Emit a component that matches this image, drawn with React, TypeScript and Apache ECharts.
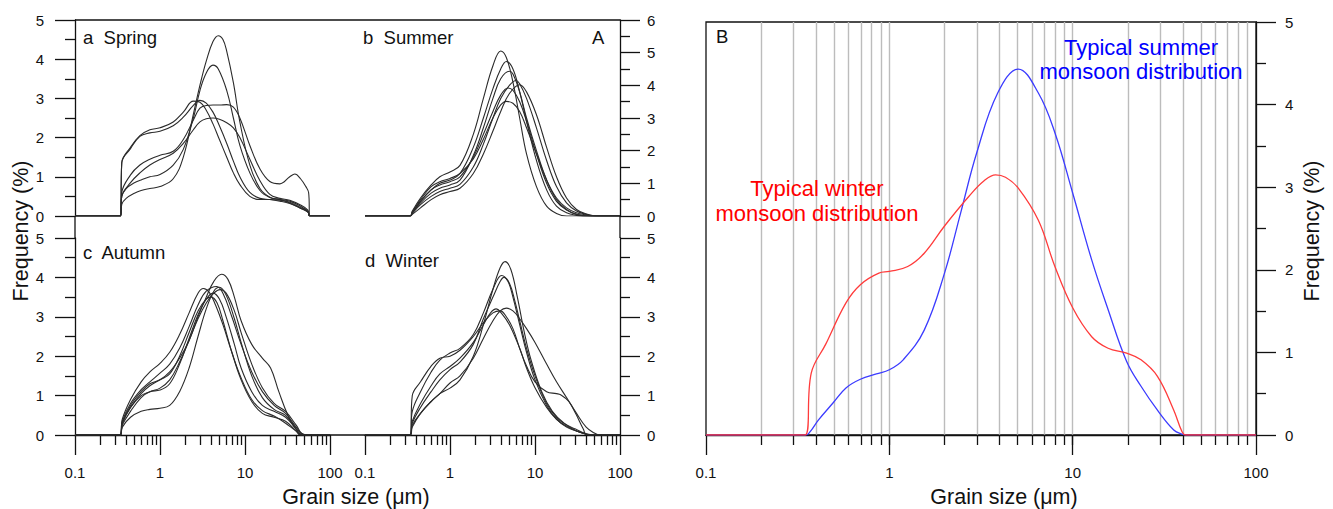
import React, { useEffect, useRef } from 'react';
import * as echarts from 'echarts';

type Pt = [number, number];

const FONT = '"Liberation Sans", Arial, Helvetica, sans-serif';
const INK = '#111';

// Tick positions on the grain-size axes (µm)
const MAJOR_SIZES = [0.1, 1, 10, 100];
const MINOR_SIZES = [0.2, 0.3, 0.4, 0.5, 0.6, 0.7, 0.8, 0.9, 2, 3, 4, 5, 6, 7, 8, 9, 20, 30, 40, 50, 60, 70, 80, 90];
const GRIDLINE_SIZES = [0.2, 0.3, 0.4, 0.5, 0.6, 0.7, 0.8, 0.9, 1, 2, 3, 4, 5, 6, 7, 8, 9, 10, 20, 30, 40, 50, 60, 70, 80, 90];

// ---- a Spring ----
const springA: Pt[] = [[0.1,0],[0.343,0],[0.355,0.3],[0.4,0.45],[0.5,0.58],[0.6,0.65],[0.76,0.7],[1.0,0.75],[1.43,0.95],[1.88,1.5],[2.47,2.6],[3.0,3.4],[3.5,3.95],[4.2,4.45],[4.85,4.6],[5.5,4.5],[6.1,4.2],[7.3,3.4],[8.7,2.4],[11.4,1.3],[15,0.7],[19.6,0.48],[25.7,0.42],[33.6,0.33],[45,0.2],[55,0.1],[58,0],[100,0]];
const springB: Pt[] = [[0.1,0],[0.343,0],[0.355,0.5],[0.4,0.7],[0.5,0.85],[0.6,0.92],[0.76,1.0],[1.0,1.06],[1.43,1.3],[1.88,1.7],[2.47,2.5],[2.95,3.2],[3.5,3.65],[4.2,3.85],[4.85,3.75],[6.1,3.2],[7.3,2.5],[8.7,1.8],[11.4,1.1],[15,0.65],[19.6,0.47],[25.7,0.42],[33.6,0.38],[45,0.25],[55,0.12],[58,0],[100,0]];
const springC: Pt[] = [[0.1,0],[0.343,0],[0.355,1.36],[0.45,1.75],[0.58,2.05],[0.76,2.2],[1.0,2.25],[1.43,2.4],[1.88,2.65],[2.47,2.93],[2.95,2.9],[3.5,2.7],[4.2,2.35],[5,1.95],[6.1,1.5],[7.3,1.1],[8.7,0.8],[11.4,0.5],[15,0.42],[19.6,0.42],[25.7,0.4],[33.6,0.35],[45,0.22],[55,0.12],[58,0],[100,0]];
const springD: Pt[] = [[0.1,0],[0.343,0],[0.355,1.36],[0.45,1.72],[0.58,2.03],[0.76,2.12],[1.0,2.16],[1.43,2.3],[1.88,2.52],[2.47,2.82],[2.95,2.95],[3.5,2.88],[4.2,2.65],[5,2.3],[6.1,1.85],[7.3,1.4],[8.7,1.0],[11.4,0.6],[15,0.45],[19.6,0.42],[25.7,0.38],[33.6,0.32],[45,0.2],[55,0.1],[58,0],[100,0]];
const springE: Pt[] = [[0.1,0],[0.343,0],[0.355,0.6],[0.45,1.05],[0.58,1.3],[0.76,1.45],[1.0,1.55],[1.43,1.65],[1.88,1.95],[2.47,2.45],[2.95,2.75],[3.5,2.82],[4.2,2.83],[5,2.83],[6.1,2.84],[7.3,2.78],[8.7,2.5],[11.4,1.8],[15,1.2],[19.6,0.88],[25.7,0.82],[33.6,1.0],[38.6,1.07],[45,0.95],[52,0.75],[56,0.6],[58,0],[100,0]];
const springF: Pt[] = [[0.1,0],[0.343,0],[0.355,0.5],[0.45,0.85],[0.58,1.1],[0.76,1.3],[1.0,1.44],[1.43,1.6],[1.88,1.85],[2.47,2.2],[2.95,2.4],[3.5,2.48],[4.2,2.5],[5,2.47],[6.1,2.38],[7.3,2.25],[8.7,2.0],[11.4,1.45],[15,0.9],[19.6,0.55],[25.7,0.45],[33.6,0.4],[45,0.28],[55,0.15],[58,0],[100,0]];

// ---- b Summer ----
const summerA: Pt[] = [[0.1,0],[0.34,0],[0.36,0.15],[0.45,0.55],[0.6,0.95],[0.76,1.2],[1.0,1.35],[1.31,1.55],[1.88,2.5],[2.47,3.6],[3.2,4.6],[3.95,5.05],[4.6,4.85],[5.5,4.1],[6.6,3.0],[7.95,1.9],[10.4,0.9],[13.7,0.3],[17.9,0.08],[23.5,0],[100,0]];
const summerB: Pt[] = [[0.1,0],[0.34,0],[0.36,0.1],[0.45,0.45],[0.6,0.8],[0.76,1.0],[1.0,1.1],[1.31,1.3],[1.88,2.1],[2.47,3.0],[3.2,3.9],[3.95,4.5],[4.6,4.73],[5.5,4.5],[6.6,3.8],[7.95,2.9],[10.4,1.7],[13.7,0.8],[17.9,0.3],[23.5,0.1],[30.8,0.02],[38,0],[100,0]];
const summerC: Pt[] = [[0.1,0],[0.34,0],[0.36,0.1],[0.45,0.4],[0.6,0.7],[0.76,0.85],[1.0,0.95],[1.31,1.1],[1.88,1.85],[2.47,2.7],[3.2,3.6],[3.95,4.2],[5.0,4.43],[5.5,4.35],[6.6,3.8],[7.95,3.0],[10.4,2.0],[13.7,1.1],[17.9,0.5],[23.5,0.2],[30.8,0.05],[42,0],[100,0]];
const summerD: Pt[] = [[0.1,0],[0.34,0],[0.36,0.08],[0.45,0.35],[0.6,0.6],[0.76,0.75],[1.0,0.85],[1.31,0.97],[1.88,1.5],[2.47,2.2],[3.2,3.0],[3.95,3.6],[5.0,4.0],[6.0,4.15],[6.6,4.05],[7.95,3.6],[10.4,2.7],[13.7,1.7],[17.9,0.9],[23.5,0.4],[30.8,0.15],[40.3,0.05],[50,0],[100,0]];
const summerE: Pt[] = [[0.1,0],[0.34,0],[0.36,0.05],[0.45,0.25],[0.6,0.5],[0.76,0.65],[1.0,0.75],[1.31,0.85],[1.88,1.3],[2.47,1.9],[3.2,2.6],[3.95,3.2],[5.0,3.75],[6.6,4.02],[7.95,3.8],[10.4,3.1],[13.7,2.1],[17.9,1.2],[23.5,0.55],[30.8,0.2],[40.3,0.06],[55,0],[100,0]];
const summerF: Pt[] = [[0.1,0],[0.34,0],[0.36,0.1],[0.45,0.45],[0.6,0.8],[0.76,0.95],[1.0,1.05],[1.31,1.2],[1.88,1.8],[2.47,2.5],[3.2,3.2],[3.95,3.7],[4.8,3.92],[5.5,3.85],[6.6,3.5],[7.95,2.9],[10.4,1.9],[13.7,1.0],[17.9,0.45],[23.5,0.18],[30.8,0.05],[42,0],[100,0]];
const summerG: Pt[] = [[0.1,0],[0.34,0],[0.36,0.12],[0.45,0.5],[0.6,0.9],[0.76,1.05],[1.0,1.15],[1.31,1.3],[1.88,1.75],[2.47,2.35],[3.2,3.0],[3.95,3.4],[4.6,3.51],[5.5,3.45],[6.6,3.2],[7.95,2.7],[10.4,1.9],[13.7,1.1],[17.9,0.55],[23.5,0.25],[30.8,0.1],[40.3,0.03],[48,0],[100,0]];

// ---- c Autumn ----
const autumnA: Pt[] = [[0.1,0],[0.34,0],[0.36,0.4],[0.45,0.9],[0.6,1.35],[0.76,1.6],[1.0,1.82],[1.3,2.1],[1.7,2.55],[2.2,3.1],[2.8,3.6],[3.24,3.72],[3.8,3.62],[4.5,3.3],[5.5,2.8],[7,2.1],[9,1.45],[12,0.9],[16,0.62],[22,0.48],[30,0.3],[40,0.1],[48,0],[100,0]];
const autumnB: Pt[] = [[0.1,0],[0.34,0],[0.36,0.3],[0.45,0.75],[0.6,1.1],[0.76,1.3],[1.0,1.4],[1.3,1.6],[1.7,1.95],[2.2,2.4],[2.8,3.0],[3.5,3.5],[4.3,3.9],[5.3,4.08],[6.3,3.95],[7.5,3.5],[9,2.9],[12,2.3],[16,1.95],[20,1.7],[25,1.1],[32,0.5],[40,0.15],[55,0],[100,0]];
const autumnC: Pt[] = [[0.1,0],[0.34,0],[0.36,0.35],[0.45,0.8],[0.6,1.15],[0.76,1.35],[1.0,1.57],[1.3,1.8],[1.7,2.2],[2.2,2.75],[2.8,3.3],[3.5,3.65],[4.65,3.77],[5.5,3.6],[7,3.0],[9,2.3],[12,1.6],[16,1.1],[22,0.75],[30,0.55],[40,0.2],[50,0],[100,0]];
const autumnD: Pt[] = [[0.1,0],[0.34,0],[0.36,0.3],[0.45,0.7],[0.6,1.0],[0.76,1.1],[1.0,1.19],[1.3,1.4],[1.7,1.85],[2.2,2.4],[2.8,2.95],[3.5,3.35],[4.3,3.6],[5.1,3.69],[6,3.6],[7.5,3.15],[9,2.6],[12,1.8],[16,1.2],[22,0.8],[30,0.6],[40,0.25],[50,0],[100,0]];
const autumnE: Pt[] = [[0.1,0],[0.34,0],[0.36,0.25],[0.45,0.6],[0.6,0.95],[0.76,1.1],[1.0,1.14],[1.3,1.3],[1.7,1.8],[2.2,2.45],[2.8,3.05],[3.5,3.45],[4.2,3.6],[5.0,3.45],[6,3.0],[7.5,2.3],[9,1.7],[12,1.1],[16,0.75],[22,0.6],[30,0.45],[40,0.15],[45,0],[100,0]];
const autumnF: Pt[] = [[0.1,0],[0.34,0],[0.36,0.2],[0.45,0.45],[0.6,0.6],[0.76,0.65],[1.0,0.68],[1.3,0.75],[1.7,1.1],[2.2,1.7],[2.8,2.5],[3.5,3.2],[4.3,3.65],[5.0,3.75],[6,3.55],[7.5,2.95],[9,2.35],[12,1.5],[16,0.95],[22,0.65],[30,0.5],[40,0.15],[45,0],[100,0]];
const autumnG: Pt[] = [[0.1,0],[0.34,0],[0.36,0.3],[0.45,0.7],[0.6,1.05],[0.76,1.25],[1.0,1.4],[1.3,1.55],[1.7,2.0],[2.2,2.6],[2.8,3.15],[3.5,3.45],[4.0,3.5],[4.7,3.35],[5.5,2.9],[7,2.1],[9,1.4],[12,0.85],[16,0.55],[22,0.45],[30,0.35],[40,0.1],[45,0],[100,0]];

// ---- d Winter ----
const winterA: Pt[] = [[0.1,0],[0.34,0],[0.36,0.25],[0.45,0.55],[0.6,0.85],[0.76,1.05],[1.0,1.19],[1.31,1.4],[1.88,2.0],[2.47,2.8],[3.2,3.7],[3.9,4.25],[4.45,4.4],[5.2,4.2],[6.2,3.5],[7.5,2.6],[9,1.9],[12,1.1],[16,0.6],[22,0.3],[30,0.15],[40,0.03],[50,0],[100,0]];
const winterB: Pt[] = [[0.1,0],[0.34,0],[0.36,0.6],[0.45,1.1],[0.6,1.6],[0.76,1.9],[1.0,2.08],[1.31,2.2],[1.88,2.55],[2.47,3.1],[3.2,3.7],[4.05,4.05],[4.8,3.9],[5.5,3.5],[6.6,2.8],[7.95,2.1],[10,1.4],[13.7,0.75],[17.9,0.4],[23.5,0.2],[30.8,0.1],[40,0.02],[45,0],[100,0]];
const winterC: Pt[] = [[0.1,0],[0.34,0],[0.36,1.0],[0.45,1.35],[0.6,1.75],[0.76,1.95],[1.0,2.0],[1.31,2.15],[1.88,2.5],[2.47,2.85],[3.2,3.1],[3.9,3.15],[4.6,3.0],[5.5,2.7],[6.6,2.2],[7.95,1.75],[10,1.35],[13.7,1.1],[17.9,1.05],[20,1.02],[25,0.85],[30,0.55],[37,0.15],[41,0],[100,0]];
const winterD: Pt[] = [[0.1,0],[0.34,0],[0.36,0.3],[0.45,0.7],[0.6,1.1],[0.76,1.4],[1.0,1.66],[1.31,1.85],[1.88,2.3],[2.47,2.95],[3.2,3.5],[3.9,3.9],[4.3,4.0],[5.0,3.85],[5.8,3.4],[6.6,2.9],[7.95,2.2],[10,1.5],[13.7,0.8],[17.9,0.45],[23.5,0.25],[30.8,0.1],[40,0.02],[45,0],[100,0]];
const winterE: Pt[] = [[0.1,0],[0.34,0],[0.36,0.2],[0.45,0.55],[0.6,0.85],[0.76,1.05],[1.0,1.32],[1.31,1.5],[1.88,1.95],[2.47,2.45],[3.2,2.9],[3.9,3.15],[4.6,3.22],[5.5,3.15],[6.6,2.95],[7.95,2.7],[10,2.35],[13.7,1.8],[17.9,1.35],[23.5,0.95],[30.8,0.55],[40,0.2],[50,0.05],[57,0],[100,0]];
const winterF: Pt[] = [[0.1,0],[0.34,0],[0.36,0.35],[0.45,0.8],[0.6,1.25],[0.76,1.55],[1.0,1.74],[1.31,1.95],[1.88,2.35],[2.47,2.8],[3.0,3.1],[3.5,3.2],[4.0,3.1],[5.0,2.8],[6.6,2.2],[7.95,1.7],[10,1.2],[13.7,0.7],[17.9,0.4],[23.5,0.22],[30.8,0.1],[40,0.02],[45,0],[100,0]];

// ---- B: typical monsoon distributions ----
const typicalWinter: Pt[] = [[0.1,0],[0.347,0],[0.375,0.75],[0.45,1.1],[0.58,1.6],[0.695,1.82],[0.877,1.96],[1.0,1.98],[1.26,2.04],[1.55,2.2],[2.0,2.53],[2.72,2.89],[3.3,3.08],[3.8,3.15],[4.3,3.12],[5.05,2.99],[6.5,2.6],[8.0,2.04],[10,1.54],[12.7,1.19],[15.6,1.05],[19.7,0.99],[23.6,0.91],[29,0.71],[35.6,0.3],[39.5,0.04],[41.5,0],[100,0]];
const typicalSummer: Pt[] = [[0.1,0],[0.35,0],[0.37,0.04],[0.41,0.18],[0.494,0.39],[0.58,0.57],[0.695,0.675],[0.85,0.74],[1.0,0.79],[1.19,0.91],[1.55,1.27],[2.0,1.96],[2.45,2.69],[3.0,3.42],[3.9,4.14],[5.05,4.43],[6.5,4.14],[8.0,3.66],[10,2.93],[12.7,2.12],[15.6,1.52],[19.7,0.89],[23.6,0.59],[29,0.3],[35.6,0.06],[39.5,0.01],[42,0],[100,0]];

const SPRING = [springA, springB, springC, springD, springE, springF];
const SUMMER = [summerA, summerB, summerC, summerD, summerE, summerF, summerG];
const AUTUMN = [autumnA, autumnB, autumnC, autumnD, autumnE, autumnF, autumnG];
const WINTER = [winterA, winterB, winterC, winterD, winterE, winterF];

const axisLineStyle = { color: INK, width: 1.3 };

function hiddenX(gridIndex: number) {
  return { type: 'log', logBase: 10, gridIndex, min: 0.1, max: 100, show: false };
}

function majorX(gridIndex: number) {
  return {
    type: 'log', logBase: 10, gridIndex, position: 'bottom', min: 0.1, max: 100,
    axisLine: { show: true, onZero: false, lineStyle: axisLineStyle },
    axisTick: { show: true, length: 20, customValues: MAJOR_SIZES, lineStyle: axisLineStyle },
    minorTick: { show: false },
    axisLabel: {
      show: true, customValues: MAJOR_SIZES, margin: 30, color: INK, fontSize: 15, fontFamily: FONT,
      formatter: (v: number) => String(v),
    },
    splitLine: { show: false },
  };
}

function minorX(gridIndex: number, gridlines: boolean) {
  return {
    type: 'log', logBase: 10, gridIndex, position: 'bottom', min: 0.1, max: 100,
    axisLine: { show: false, onZero: false },
    axisTick: { show: true, length: 10, customValues: gridlines ? GRIDLINE_SIZES : MINOR_SIZES, lineStyle: axisLineStyle },
    minorTick: { show: false },
    axisLabel: { show: false },
    splitLine: { show: gridlines, lineStyle: { color: '#bcbcbc', width: 1.4 } },
  };
}

function yAx(gridIndex: number, position: string, max: number, margin: number) {
  return {
    type: 'value', gridIndex, position, min: 0, max, interval: 1,
    axisLine: { show: true, onZero: false, lineStyle: axisLineStyle },
    axisTick: { show: true, length: 20, lineStyle: axisLineStyle },
    minorTick: { show: true, splitNumber: 2, length: 10, lineStyle: axisLineStyle },
    axisLabel: { color: INK, fontSize: 15, fontFamily: FONT, margin },
    splitLine: { show: false },
    minorSplitLine: { show: false },
  };
}

function lines(list: Pt[][], xAxisIndex: number, yAxisIndex: number, color: string, width: number) {
  return list.map((data) => ({
    type: 'line', xAxisIndex, yAxisIndex, data,
    showSymbol: false, symbol: 'none', smooth: 0.4,
    lineStyle: { color, width }, silent: true, z: 3,
  }));
}

function txt(text: string, x: number, y: number, size: number, fill = INK, align = 'left', rotation = 0) {
  return {
    type: 'text', x, y, rotation, z: 10, silent: true,
    style: { text, fill, fontSize: size, fontFamily: FONT, textAlign: align, textVerticalAlign: 'middle' },
  };
}

function seg(x1: number, y1: number, x2: number, y2: number) {
  return { type: 'line', z: 5, silent: true, shape: { x1, y1, x2, y2 }, style: { stroke: INK, lineWidth: 1.3 } };
}

const gridBase = { containLabel: false, outerBoundsMode: 'none' };

const option = {
  animation: false,
  backgroundColor: '#fff',
  grid: [
    { ...gridBase, left: 75, top: 20, width: 255, height: 196 },
    { ...gridBase, left: 365, top: 20, width: 255, height: 196 },
    { ...gridBase, left: 75, top: 238, width: 255, height: 197 },
    { ...gridBase, left: 365, top: 238, width: 255, height: 197 },
    { ...gridBase, left: 706, top: 22, width: 550, height: 413, show: true, borderColor: INK, borderWidth: 1.3, backgroundColor: 'transparent' },
  ],
  xAxis: [
    hiddenX(0),
    hiddenX(1),
    majorX(2),
    minorX(2, false),
    majorX(3),
    minorX(3, false),
    majorX(4),
    minorX(4, true),
  ],
  yAxis: [
    yAx(0, 'left', 5, 31),
    yAx(1, 'right', 6, 27),
    yAx(2, 'left', 5, 31),
    yAx(3, 'right', 5, 27),
    yAx(4, 'right', 5, 29),
  ],
  series: [
    ...lines(SPRING, 0, 0, '#2b2b2b', 1.1),
    ...lines(SUMMER, 1, 1, '#2b2b2b', 1.1),
    ...lines(AUTUMN, 2, 2, '#2b2b2b', 1.1),
    ...lines(WINTER, 4, 3, '#2b2b2b', 1.1),
    ...lines([typicalSummer], 6, 4, '#3b3bff', 1.3),
    ...lines([typicalWinter], 6, 4, '#ff3b3b', 1.3),
  ],
  graphic: [
    seg(75, 20, 620, 20),
    seg(75, 216, 75, 238),
    seg(620, 216, 620, 238),
    seg(330, 435, 365, 435),
    txt('a  Spring', 83, 37, 18.5),
    txt('b  Summer', 363, 37, 18.5),
    txt('A', 592, 37, 18.5),
    txt('c  Autumn', 83, 252, 18.5),
    txt('d  Winter', 365, 260, 18.5),
    txt('B', 716, 36, 18.5),
    txt('Typical summer', 1141, 47, 22, '#0000ff', 'center'),
    txt('monsoon distribution', 1141, 71, 22, '#0000ff', 'center'),
    txt('Typical winter', 817, 188, 22, '#ff0000', 'center'),
    txt('monsoon distribution', 817, 213, 22, '#ff0000', 'center'),
    txt('Grain size (\u03bcm)', 356, 497, 21.5, INK, 'center'),
    txt('Grain size (\u03bcm)', 1004, 497, 21.5, INK, 'center'),
    txt('Frequency (%)', 21, 231, 21.5, INK, 'center', Math.PI / 2),
    txt('Frequency (%)', 1312, 231, 21.5, INK, 'center', Math.PI / 2),
  ],
};

export default function App() {
  const ref = useRef<HTMLDivElement>(null);
  useEffect(() => {
    if (!ref.current) return;
    const chart = echarts.init(ref.current, null, { renderer: 'svg' });
    chart.setOption(option as any);
    return () => chart.dispose();
  }, []);
  return (
    <div
      ref={ref}
      style={{ position: 'fixed', left: 0, top: 0, width: 1333, height: 509, background: '#fff' }}
    />
  );
}
